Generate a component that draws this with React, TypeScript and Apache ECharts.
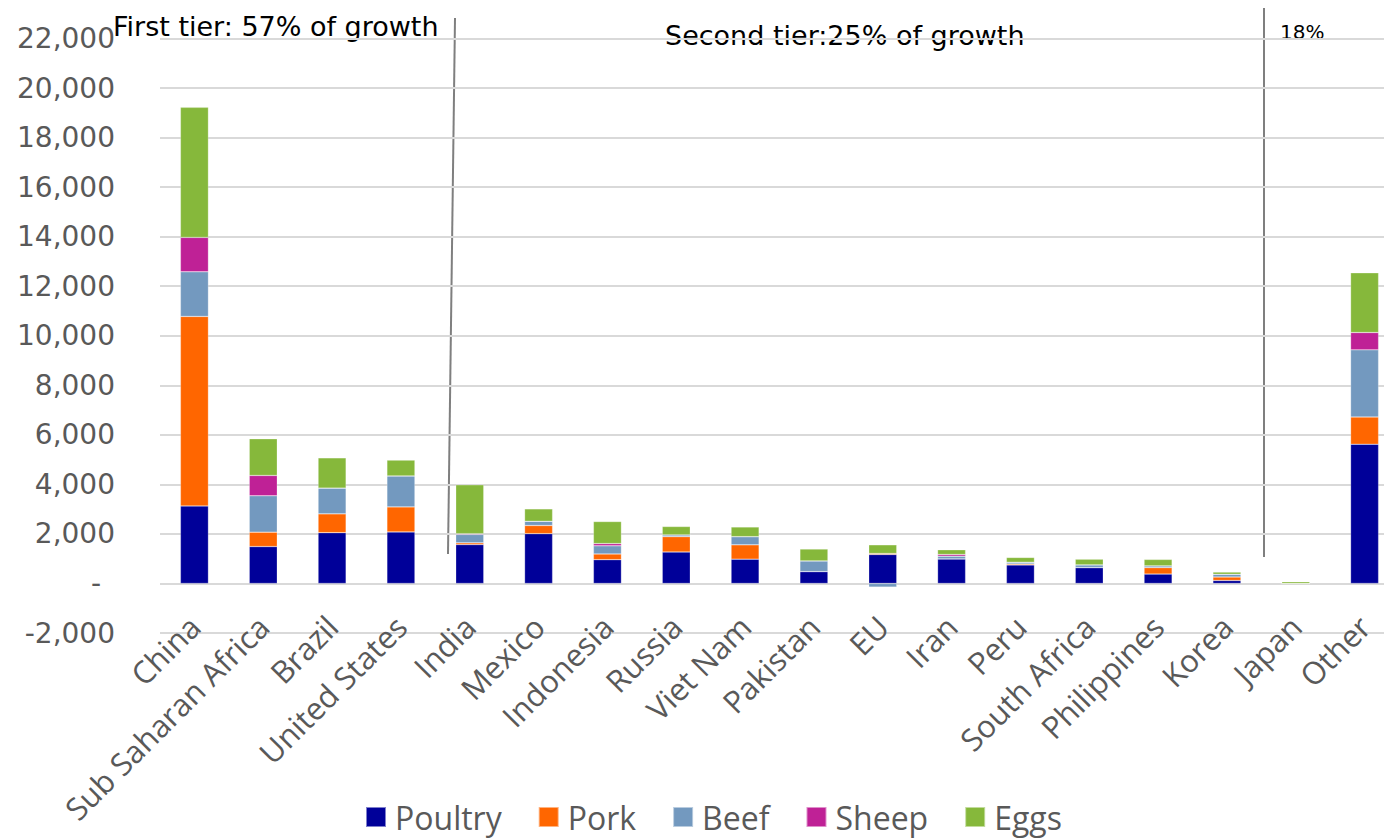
import React, { useEffect, useRef } from "react";
import * as echarts from "echarts";

const categories = [
  "China", "Sub Saharan Africa", "Brazil", "United States", "India", "Mexico",
  "Indonesia", "Russia", "Viet Nam", "Pakistan", "EU", "Iran", "Peru",
  "South Africa", "Philippines", "Korea", "Japan", "Other",
];

const poultry = [3130, 1490, 2050, 2080, 1570, 2010, 960, 1270, 980, 480, 1170, 990, 750, 640, 380, 120, 0, 5620];
const pork = [7650, 580, 760, 1010, 70, 330, 230, 620, 580, 0, 40, 0, 40, 0, 260, 140, 0, 1100];
const beef = [1800, 1470, 1040, 1250, 340, 170, 330, 70, 330, 430, -150, 110, 70, 110, 70, 110, 0, 2710];
const sheep = [1390, 820, 0, 0, 30, 0, 90, 0, 0, 0, 0, 70, 0, 0, 0, 0, 0, 700];
const eggs = [5250, 1480, 1220, 640, 1970, 500, 890, 340, 390, 480, 350, 190, 190, 230, 260, 90, 70, 2410];

const seriesNames = ["Poultry", "Pork", "Beef", "Sheep", "Eggs"];
const seriesColors = ["#000099", "#FF6600", "#7399BF", "#BF2196", "#86B83B"];

const yMin = -2000;
const yMax = 22000;
const yStep = 2000;

const tierTexts = ["First tier: 57% of growth", "Second tier:25% of growth", "18%"];

export default function App() {
  const ref = useRef<HTMLDivElement>(null);

  useEffect(() => {
    if (!ref.current) return;
    const chart = echarts.init(ref.current, null, { renderer: "svg" });
    const data = [poultry, pork, beef, sheep, eggs];
    const fmt = (v: number) => {
      if (v === 0) return "{d|-}";
      const s = Math.abs(v).toLocaleString("en-US");
      return v < 0 ? "-" + s : s;
    };
    chart.setOption({
      animation: false,
      backgroundColor: "#ffffff",
      grid: {
        left: 160,
        top: 38.5,
        width: 1239,
        height: 594.5,
        containLabel: false,
        outerBoundsMode: "none",
      },
      legend: {
        data: seriesNames,
        left: 360,
        top: 796,
        icon: "rect",
        itemWidth: 20,
        itemHeight: 20,
        itemGap: 36,
        textStyle: { fontSize: 32, color: "#595959", fontFamily: "Open Sans", padding: [0, 0, 0, 4] },
      },
      xAxis: {
        type: "category",
        data: categories,
        axisLine: { show: false, onZero: false },
        axisTick: { show: false },
        axisLabel: {
          rotate: 45,
          interval: 0,
          margin: -12,
          fontSize: 31,
          color: "#595959",
          fontFamily: "Open Sans",
        },
      },
      yAxis: {
        type: "value",
        min: yMin,
        max: yMax,
        interval: yStep,
        axisLine: { show: false },
        axisTick: { show: false },
        splitLine: { lineStyle: { color: "#D9D9D9", width: 2 } },
        axisLabel: {
          margin: 45,
          fontSize: 28,
          color: "#595959",
          fontFamily: "DejaVu Sans",
          formatter: fmt,
          rich: { d: { fontSize: 28, color: "#595959", fontFamily: "DejaVu Sans", padding: [0, 14, 0, 0] } },
        },
      },
      series: seriesNames.map((name, i) => ({
        name,
        type: "bar",
        stack: "total",
        barWidth: 28,
        data: data[i],
        itemStyle: { color: seriesColors[i], borderColor: "rgba(255,255,255,0.5)", borderWidth: 0.5 },
      })),
      graphic: [
        { type: "line", shape: { x1: 455, y1: 18, x2: 448, y2: 554 }, style: { stroke: "#7F7F7F", lineWidth: 2 } },
        { type: "line", shape: { x1: 1264, y1: 8, x2: 1264, y2: 557 }, style: { stroke: "#7F7F7F", lineWidth: 2 } },
        { type: "text", x: 113, y: 26.5, style: { text: tierTexts[0], fontSize: 27, fontFamily: "DejaVu Sans", fill: "#000000", verticalAlign: "middle" } },
        { type: "text", x: 665, y: 35.5, z: -1, style: { text: tierTexts[1], fontSize: 27, fontFamily: "DejaVu Sans", fill: "#000000", verticalAlign: "middle" } },
        { type: "text", x: 1280, y: 32, style: { text: tierTexts[2], fontSize: 20, fontFamily: "DejaVu Sans", fill: "#000000", verticalAlign: "middle" } },
      ],
    });
    return () => chart.dispose();
  }, []);

  return (
    <div
      ref={ref}
      style={{ position: "fixed", left: 0, top: 0, width: 1384, height: 839, background: "#fff" }}
    />
  );
}
